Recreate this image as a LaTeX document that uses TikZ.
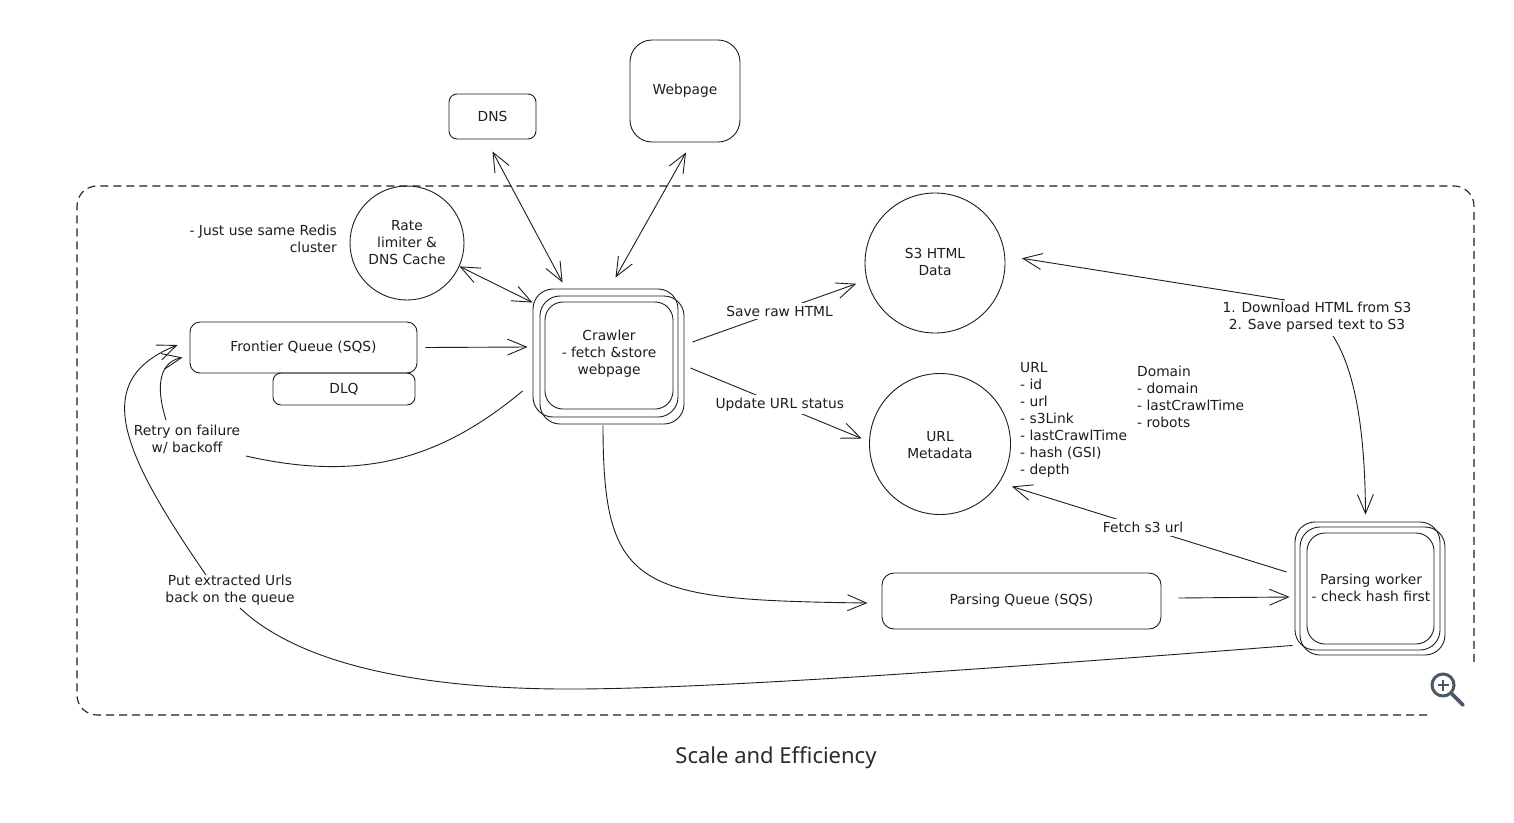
\documentclass[tikz,border=0pt]{standalone}
\usepackage{fontspec}
\newfontfamily\hand{DejaVu Sans}
\newfontfamily\capfont{Noto Sans}
\usetikzlibrary{arrows.meta,calc}
\definecolor{ink}{HTML}{1E1E1E}
\definecolor{iconc}{RGB}{75,88,102}
\definecolor{capc}{HTML}{2B2B2B}
\tikzset{
  xbarb/.tip={Straight Barb[length=19pt,width=16pt]},
  ln/.style={draw=ink, line width=0.9pt},
  arr/.style={ln, -{xbarb}},
  sarr/.style={ln, {xbarb}-},
  darr/.style={ln, {xbarb}-{xbarb}},
  txt/.style={font=\hand\fontsize{13.8}{17}\selectfont, text=ink, align=center, inner sep=1pt},
  lbl/.style={txt, fill=white, inner sep=3pt},
  rbox/.style={draw=ink, line width=0.9pt, rectangle, rounded corners=#1, inner sep=0pt},
  rbox/.default=10,
  circ/.style={draw=ink, line width=0.9pt, circle, inner sep=0pt},
}
\begin{document}
\begin{tikzpicture}[x=1pt,y=-1pt]
\useasboundingbox (0,0) rectangle (1514,822);
\fill[white] (0,0) rectangle (1514,822);

% dashed container (corner hidden by icon)
\draw[ink, line width=1.1pt, dash pattern=on 8pt off 5pt]
  (1427,715) -- (97,715) arc[start angle=90, end angle=180, radius=20]
  -- (77,206) arc[start angle=180, end angle=270, radius=20]
  -- (1454,186) arc[start angle=270, end angle=360, radius=20] -- (1474,665);

% shapes
\node[rbox=8, minimum width=87, minimum height=45] (dns) at (492.5,116.5) {};
\node[txt] (dnst) at (dns.center) {DNS};
\node[rbox=22, minimum width=110, minimum height=102] (web) at (685,91) {};
\node[txt] (webt) at (web.center) {Webpage};
\node[circ, minimum size=114] (rate) at (407,243) {};
\node[txt] (ratet) at (rate.center) {Rate\\limiter \&\\DNS Cache};

\node[rbox=20, minimum width=145, minimum height=128] (crA) at (605.5,353) {};
\node[rbox=20, minimum width=144, minimum height=128] (crB) at (612,360) {};
\node[rbox=18, minimum width=128, minimum height=107] (crC) at (609,355.5) {};
\node[txt] (crt) at (609,354) {Crawler\\- fetch \&store\\webpage};

\node[rbox=10, minimum width=227, minimum height=51] (frontier) at (303.5,347.5) {};
\node[txt] (frontiert) at (frontier.center) {Frontier Queue (SQS)};
\node[rbox=8, minimum width=142, minimum height=32] (dlq) at (344,389) {};
\node[txt] (dlqt) at (dlq.center) {DLQ};

\node[circ, minimum size=140] (s3) at (935,263) {};
\node[txt] (s3t) at (935,262) {S3 HTML\\Data};
\node[circ, minimum size=141] (meta) at (940,444) {};
\node[txt] (metat) at (940,445) {URL\\Metadata};

\node[rbox=12, minimum width=279, minimum height=56] (pq) at (1021.5,601) {};
\node[txt] (pqt) at (pq.center) {Parsing Queue (SQS)};

\node[rbox=20, minimum width=145, minimum height=128] (pwA) at (1367.5,586) {};
\node[rbox=20, minimum width=145, minimum height=128] (pwB) at (1372.5,591) {};
\node[rbox=18, minimum width=127, minimum height=111] (pwC) at (1370.5,588.5) {};
\node[txt] (pwt) at (1371,588) {Parsing worker\\- check hash first};

% free texts
\node[txt, align=right, anchor=east] (note) at (338,239) {- Just use same Redis\\cluster};
\node[txt, align=left, anchor=west] (urllist) at (1019,420) {URL\\- id\\- url\\- s3Link\\- lastCrawlTime\\- hash (GSI)\\- depth};
\node[txt, align=left, anchor=west] (domlist) at (1136,397) {Domain\\- domain\\- lastCrawlTime\\- robots};

% connectors
\draw[darr] ([yshift=-12]dns.south) -- ([xshift=30,yshift=6]crA.north west);
\draw[darr] ([xshift=1,yshift=-10]web.south) -- ([xshift=10,yshift=11]crA.north);
\draw[darr] (rate.-24) -- ([yshift=-14]crA.north west);
\draw[arr] ([xshift=8]frontier.east) -- ([xshift=-5,yshift=6]crA.west);
\draw[arr, shorten >=11pt] ([xshift=14,yshift=11]crA.east) -- node[lbl] (savel) {Save raw HTML} (s3.194);
\draw[arr, shorten >=8pt] ([xshift=12,yshift=-15]crA.east) -- node[lbl] (updl) {Update URL status} (meta.178);
\draw[arr] ([xshift=-2.5,yshift=-8]crA.south) .. controls +(0,165) and +(-230,-3) .. ([xshift=-14,yshift=-2]pq.west);

% retry
\coordinate (r1) at (246,456);
\coordinate (r2) at (166,420);
\draw[ln] ([xshift=-10,yshift=-38]crA.west) .. controls (440,460) and (360,482) .. (r1);
\draw[arr] (r2) .. controls (155,385) and (160,362) .. ([xshift=-7,yshift=-10]frontier.west);
\node[txt] (retryl) at (187,439) {Retry on failure\\w/ backoff};

% put extracted urls
\coordinate (p2) at (240,608);
\coordinate (p3) at (206,575);
\draw[ln] ([xshift=-2,yshift=5]pwA.south west) .. controls (1000,668) and (700,690) .. (560,689) .. controls (420,688) and (300,665) .. (p2);
\draw[arr] (p3) .. controls (120,450) and (90,380) .. ([xshift=-12,yshift=2.5]frontier.west);
\node[txt] (putl) at (230,590) {Put extracted Urls\\back on the queue};

% S3 <-> parsing worker
\coordinate (d1) at (1285,300);
\coordinate (d2) at (1333,336);
\draw[sarr, shorten <=17pt] (s3.6.6) -- (d1);
\draw[arr] (d2) .. controls (1355,370) and (1365,430) .. ([xshift=-2,yshift=7]pwA.north);
\node[txt] (dll) at (1317,317) {1. Download HTML from S3\\2. Save parsed text to S3};

% fetch
\draw[arr, shorten >=13pt] ([xshift=-8,yshift=14]pwA.west) -- node[lbl] (fetchl) {Fetch s3 url} (meta.-33.3);
% parsing queue -> worker
\draw[arr] ([xshift=17,yshift=3]pq.east) -- ([xshift=-5,yshift=-11]pwA.west);

% zoom icon
\draw[iconc, line width=3pt] (1443,685) circle[radius=11];
\draw[iconc, line width=2.2pt] (1437.5,685) -- (1448.5,685) (1443,679.5) -- (1443,690.5);
\draw[iconc, line width=3.8pt, line cap=round] (1452,694) -- (1463,705);

% caption
\node[font=\capfont\fontsize{22}{26}\selectfont, text=capc] (cap) at (776,758) {Scale and Efficiency};
\end{tikzpicture}
\end{document}
